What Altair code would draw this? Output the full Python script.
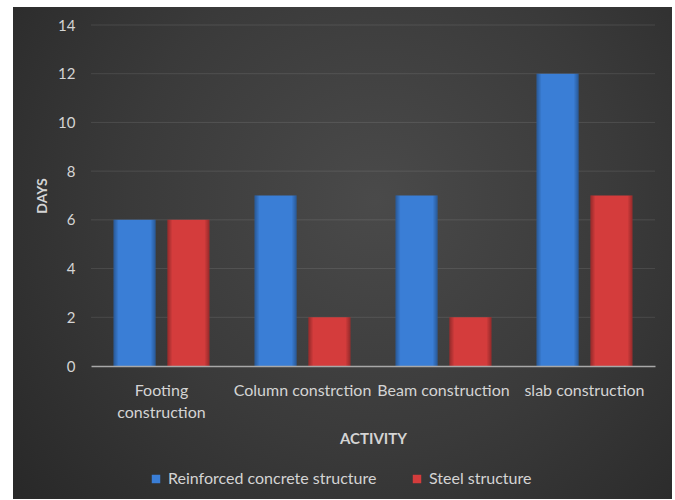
import altair as alt
import pandas as pd

activities = ["Footing construction", "Column constrction", "Beam construction", "slab construction"]
series = ["Reinforced concrete structure", "Steel structure"]
rc_days = [6, 7, 7, 12]
steel_days = [6, 2, 2, 7]
y_ticks = [0, 2, 4, 6, 8, 10, 12, 14]

rows = []
for a, r, s in zip(activities, rc_days, steel_days):
    rows.append({"activity": a, "series": series[0], "days": r})
    rows.append({"activity": a, "series": series[1], "days": s})
df = pd.DataFrame(rows)
grid_df = pd.DataFrame({"days": y_ticks[1:]})

FONT = "Lato"
TXT = "#d4d4d4"

bg = alt.Chart(pd.DataFrame({"z": [0]})).mark_rect(
    fill=alt.RadialGradient(
        gradient="radial",
        stops=[alt.GradientStop(color="#4a4a4a", offset=0),
               alt.GradientStop(color="#3a3a3a", offset=0.5),
               alt.GradientStop(color="#262626", offset=1)],
        x1=0.55, y1=0.42, r1=0, x2=0.55, y2=0.42, r2=0.75,
    )
).encode(x=alt.value(-78), x2=alt.value(581), y=alt.value(-18), y2=alt.value(474))

grid = alt.Chart(grid_df).mark_rule(color="#ffffff", opacity=0.1, strokeWidth=1).encode(
    y=alt.Y("days:Q")
)

base = alt.Chart(df).encode(
    x=alt.X("activity:N", sort=activities,
            scale=alt.Scale(paddingInner=0.32, paddingOuter=0.16),
            axis=alt.Axis(title="ACTIVITY", labelAngle=0, labelFont=FONT, labelFontSize=16,
                          labelColor=TXT, labelPadding=16, labelLineHeight=22, labelLimit=300,
                          labelExpr="datum.value == 'Footing construction' ? ['Footing', 'construction'] : datum.value",
                          ticks=False, domainColor="#a8a8a8", domainWidth=1.5, grid=False, zindex=1,
                          titleFont=FONT, titleFontSize=15, titleFontWeight="bold", titleColor=TXT,
                          titleX=282, titleY=72, titleBaseline="middle")),
    xOffset=alt.XOffset("series:N", sort=series, scale=alt.Scale(paddingInner=0.22, paddingOuter=0)),
    y=alt.Y("days:Q", scale=alt.Scale(domain=[0, 14], nice=False),
            axis=alt.Axis(title="DAYS", values=y_ticks, labelFont=FONT, labelFontSize=15,
                          labelColor=TXT, labelPadding=16, ticks=False, domain=False,
                          grid=False, zindex=1,
                          titleFont=FONT, titleFontSize=14, titleFontWeight="bold", titleColor=TXT,
                          titleX=-49, titleY=170.5, titleAngle=-90, titleBaseline="middle")),
)

bars = base.mark_bar().encode(
    color=alt.Color("series:N", sort=series,
                    scale=alt.Scale(domain=series, range=["#3a7ed6", "#d43c3c"]),
                    legend=alt.Legend(title=None, orient="none", legendX=57, legendY=446,
                                      direction="horizontal", symbolType="square", symbolSize=72,
                                      symbolStrokeWidth=0, labelFont=FONT, labelFontSize=16,
                                      labelColor=TXT, labelOffset=4, columnPadding=32, padding=0,
                                      labelLimit=400, zindex=1))
)

shade = base.mark_bar(
    fill=alt.LinearGradient(
        gradient="linear",
        stops=[alt.GradientStop(color="rgba(0,0,0,0.30)", offset=0),
               alt.GradientStop(color="rgba(0,0,0,0)", offset=0.12),
               alt.GradientStop(color="rgba(0,0,0,0)", offset=0.88),
               alt.GradientStop(color="rgba(0,0,0,0.30)", offset=1)],
        x1=0, x2=1, y1=0, y2=0,
    )
)

chart = alt.layer(bg, grid, bars, shade).properties(
    width=564, height=341,
    padding={"left": 13, "top": 7, "right": 0, "bottom": 0},
    background="white",
).configure_view(stroke=None)

chart.save("out.html", embed_options={"renderer": "svg", "actions": False})
